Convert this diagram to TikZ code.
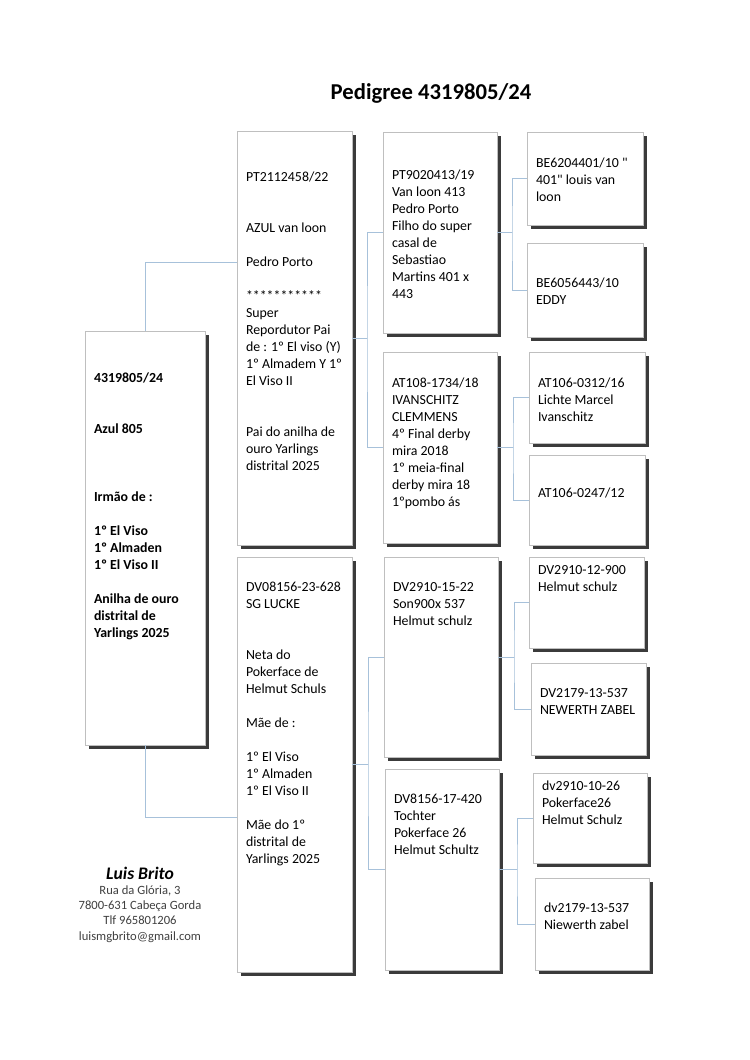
\documentclass[tikz,border=0pt]{standalone}
\usepackage{fontspec}
\setmainfont{Carlito}[Ligatures=TeXOff]
\usepackage{tikz}
\usetikzlibrary{shadows}
\definecolor{linkblue}{HTML}{A7C1DA}
\definecolor{cardgray}{HTML}{BFBFBF}
\definecolor{addrgray}{HTML}{404040}
\newlength\ux
\setlength\ux{0.7937pt}
% box text: width, height, first baseline, lines
\newcommand\cardtext[4]{\parbox[t][#2\ux][t]{\dimexpr#1\ux-18\ux\relax}{\raggedright\rule{0pt}{#3\ux}#4}}

\begin{document}
\begin{tikzpicture}[x=\ux,y=-\ux,
        every node/.style={font=\fontsize{11}{13.5}\selectfont},
        card/.style={draw=cardgray,line width=0.5pt,fill=white,anchor=north west,
          inner xsep=9*\ux,inner ysep=0pt,outer sep=0pt,
          drop shadow={shadow xshift=3.5*\ux,shadow yshift=-3.5*\ux,fill=black!85,opacity=0.9}},
        link/.style={draw=linkblue,line width=0.6pt}]
        \fill[white] (0,0) rectangle (750,1060);
        \useasboundingbox (0,0) rectangle (750,1060);

        \node[font=\fontsize{18}{21}\selectfont\bfseries] (title) at (431,93) {Pedigree 4319805/24};

        % bird
        \node[card] (subj) at (85,331) {\cardtext{120}{414}{51}{\bfseries 4319805/24\\[2\baselineskip]
          Azul 805\\[3\baselineskip]
          Irmão de :\\[\baselineskip]
          1º El Viso\\
          1º Almaden\\
          1º El Viso II\\[\baselineskip]
          Anilha de ouro\\
          distrital de\\
          Yarlings 2025}};

        % parents
        \node[card] (sire) at (237,131) {\cardtext{115}{414}{50}{PT2112458/22\\[2\baselineskip]
          AZUL van loon\\[\baselineskip]
          Pedro Porto\\[\baselineskip]
          ***********\\
          Super\\
          Repordutor Pai\\
          de : 1º El viso (Y)\\
          1º Almadem Y 1º\\
          El Viso II\\[2\baselineskip]
          Pai do anilha de\\
          ouro Yarlings\\
          distrital 2025}};
        \node[card] (dam) at (237,557) {\cardtext{115}{415}{34}{DV08156-23-628\\
          SG LUCKE\\[2\baselineskip]
          Neta do\\
          Pokerface de\\
          Helmut Schuls\\[\baselineskip]
          Mãe de :\\[\baselineskip]
          1º El Viso\\
          1º Almaden\\
          1º El Viso II\\[\baselineskip]
          Mãe do 1º\\
          distrital de\\
          Yarlings 2025}};

        % grandparents
        \node[card] (s1) at (383,132) {\cardtext{114}{201}{47}{PT9020413/19\\Van loon 413\\Pedro Porto\\Filho do super\\casal de\\Sebastiao\\Martins 401 x\\443}};
        \node[card] (s2) at (383,352) {\cardtext{114}{191}{35}{AT108-1734/18\\IVANSCHITZ\\CLEMMENS\\4º Final derby\\mira 2018\\1º meia-final\\derby mira 18\\1ºpombo ás}};
        \node[card] (d1) at (384,557) {\cardtext{114}{200}{34}{DV2910-15-22\\Son900x 537\\Helmut schulz}};
        \node[card] (d2) at (385,769) {\cardtext{114}{201}{34}{DV8156-17-420\\Tochter\\Pokerface 26\\Helmut Schultz}};

        % great-grandparents
        \node[card] (ss1) at (527,132) {\cardtext{116}{93}{35}{BE6204401/10 "\\401" louis van\\loon}};
        \node[card] (ss2) at (527,243) {\cardtext{116}{94}{44}{BE6056443/10\\EDDY}};
        \node[card] (sd1) at (529,352) {\cardtext{116}{91}{35}{AT106-0312/16\\Lichte Marcel\\Ivanschitz}};
        \node[card] (sd2) at (529,455) {\cardtext{116}{90}{42}{AT106-0247/12}};
        \node[card] (ds1) at (529,557) {\cardtext{115}{91}{17}{DV2910-12-900\\Helmut schulz}};
        \node[card] (ds2) at (531,663) {\cardtext{115}{92}{34}{DV2179-13-537\\NEWERTH ZABEL}};
        \node[card] (dd1) at (533,773) {\cardtext{114}{90}{17}{dv2910-10-26\\Pokerface26\\Helmut Schulz}};
        \node[card] (dd2) at (535,878) {\cardtext{114}{92}{34}{dv2179-13-537\\Niewerth zabel}};

        % connectors
        \draw[link] (subj.north) |- ([yshift=76*\ux]sire.west);
        \draw[link] (subj.south) |- ([yshift=-53*\ux]dam.west);
        \foreach \p/\a/\b/\d in {sire/s1/s2/15, dam/d1/d2/16, s1/ss1/ss2/15, s2/sd1/sd2/16, d1/ds1/ds2/16, d2/dd1/dd2/18}
          \draw[link] (\a.west) -| ([xshift=\d*\ux]\p.east) |- (\b.west) ([xshift=\d*\ux]\p.east) -- (\p.east);

        % breeder
        \node[font=\fontsize{14}{17}\selectfont\bfseries\itshape] (brito) at (140,873) {Luis Brito};
        \node[font=\fontsize{10}{12.1}\selectfont,text=addrgray,align=center,node distance=32.5pt] (addr) [below of=brito] {Rua da Glória, 3\\7800-631 Cabeça Gorda\\Tlf 965801206\\luismgbrito@gmail.com};
      \end{tikzpicture}
\end{document}
